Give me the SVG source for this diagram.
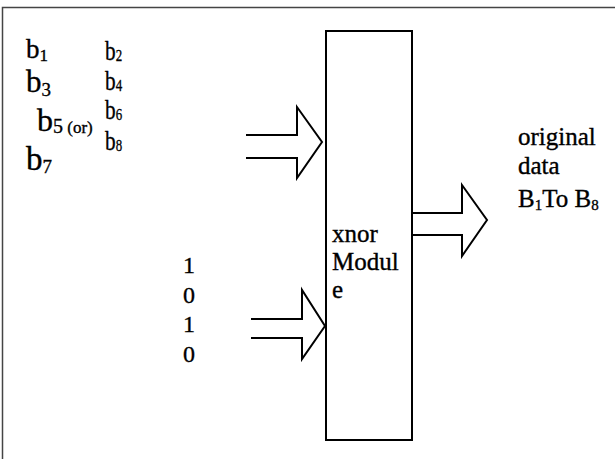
<svg xmlns="http://www.w3.org/2000/svg" width="615" height="459" viewBox="0 0 615 459">
<style>
text{font-family:'Liberation Serif','Times New Roman',Times,'DejaVu Serif',serif;fill:#000;stroke:#000;stroke-width:0.35}
.frame{stroke:#444;stroke-width:1.5;fill:none}
.arr{stroke:#000;stroke-width:2;fill:none;stroke-linejoin:miter}
</style>
<rect width="615" height="459" fill="#fff"/>
<path class="frame" d="M2.5,459 V7.5 H615"/>
<g id="inputs-b">
<text x="26" y="58" font-size="27">b<tspan font-size="17" dy="3">1</tspan></text>
<text x="26" y="92" font-size="31">b<tspan font-size="19" dy="4">3</tspan></text>
<text x="37" y="131" font-size="32">b<tspan font-size="20" dy="2">5</tspan><tspan font-size="17"> (or)</tspan></text>
<text x="26" y="170" font-size="33">b<tspan font-size="19" dy="3">7</tspan></text>
<g transform="translate(105,0) scale(0.76,1)">
<text x="0" y="60" font-size="28">b<tspan font-size="17" dy="1">2</tspan></text>
<text x="0" y="90" font-size="28">b<tspan font-size="17" dy="1">4</tspan></text>
<text x="0" y="119" font-size="28">b<tspan font-size="17" dy="1">6</tspan></text>
<text x="0" y="150" font-size="28">b<tspan font-size="17" dy="1">8</tspan></text>
</g>
</g>
<g id="inputs-key">
<text x="183" y="273" font-size="24">1</text>
<text x="183" y="303" font-size="24">0</text>
<text x="183" y="332" font-size="24">1</text>
<text x="183" y="362" font-size="24">0</text>
</g>
<g id="xnor-module">
<rect x="326" y="31" width="86" height="409" fill="#fff" stroke="#000" stroke-width="2"/>
<text x="332" y="242" font-size="25">xnor</text>
<text x="332" y="270" font-size="25">Modul</text>
<text x="332" y="298" font-size="25">e</text>
</g>
<g id="output">
<text x="518" y="145" font-size="25">original</text>
<text x="518" y="174" font-size="25">data</text>
<text x="518" y="207" font-size="25">B<tspan font-size="15" dy="3">1</tspan><tspan dy="-3">To B</tspan><tspan font-size="15" dy="3">8</tspan></text>
</g>
<g id="connectors">
<polyline class="arr" points="246,135 297,135 297,107 322,142 297,178 297,158 246,158"/>
<polyline class="arr" points="251,319 302,319 302,290 325,326 302,359 302,338 251,338"/>
<polyline class="arr" points="412,213 462,213 462,185 487,220 462,256 462,235 412,235"/>
</g>
</svg>
